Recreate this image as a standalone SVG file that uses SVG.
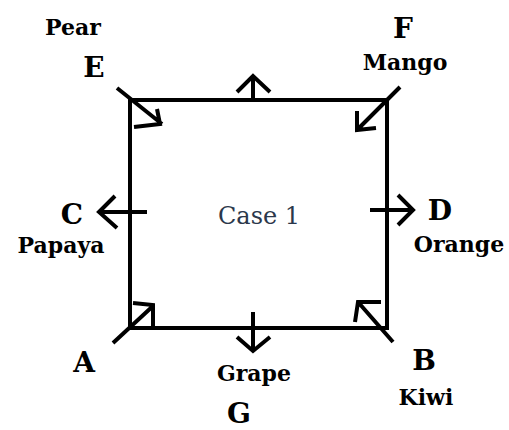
<svg xmlns="http://www.w3.org/2000/svg" width="509" height="430" viewBox="0 0 509 430">
<style>
.ln{stroke:#000;stroke-width:4;fill:none;stroke-linecap:butt;stroke-linejoin:miter}
.lb{font-family:"DejaVu Serif","Liberation Serif",serif;font-weight:bold;fill:#000;text-anchor:middle}
.s{font-size:22px}
.b{font-size:28px}
.case{font-family:"DejaVu Serif","Liberation Serif",serif;font-size:24px;fill:#2b384b;text-anchor:middle}
</style>
<rect width="509" height="430" fill="#fff"/>
<g id="square"><rect class="ln" x="130" y="100" width="257" height="228"/></g>
<g id="connectors">
<path class="ln" d="M117,88 L162,124 M157,109 L160,124 L134,127"/>
<path class="ln" d="M400,87 L357,130 M357,111 L357,130 L376,128"/>
<path class="ln" d="M113,343 L153,306 M133,303 L153,305 L153,328"/>
<path class="ln" d="M393,342 L358,302 M381,302 L358,302 L355,322"/>
<path class="ln" d="M147,212 L99,212 M115,196 L99,212 L117,228"/>
<path class="ln" d="M370,210 L413,210 M398,195 L413,210 L398,225"/>
<path class="ln" d="M253,100 L253,76 M237,92 L253,76 L270,92"/>
<path class="ln" d="M253,312 L253,351 M237,337 L253,351 L270,337"/>
</g>
<g id="E"><text class="lb s" x="73" y="35">Pear</text><text class="lb b" x="94" y="77">E</text></g>
<g id="F"><text class="lb b" x="403" y="38">F</text><text class="lb s" x="405" y="70">Mango</text></g>
<g id="C"><text class="lb b" x="72" y="224">C</text><text class="lb s" x="61" y="253">Papaya</text></g>
<g id="D"><text class="lb b" x="440" y="220">D</text><text class="lb s" x="459" y="252">Orange</text></g>
<g id="A"><text class="lb b" x="84" y="372">A</text></g>
<g id="B"><text class="lb b" x="424" y="370">B</text><text class="lb s" x="426" y="405">Kiwi</text></g>
<g id="G"><text class="lb s" x="254" y="381">Grape</text><text class="lb b" x="239" y="423">G</text></g>
<g id="case"><text class="case" x="259" y="224">Case 1</text></g>
</svg>
